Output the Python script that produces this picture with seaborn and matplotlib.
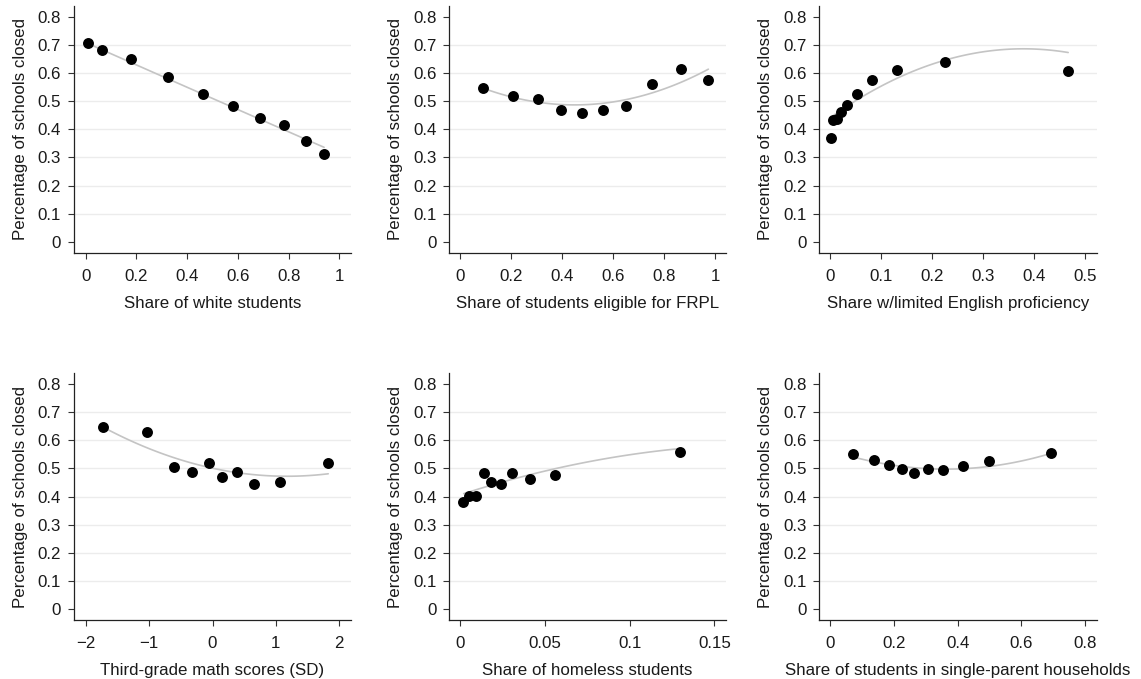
import numpy as np
import pandas as pd
import matplotlib
matplotlib.use("Agg")
import matplotlib.pyplot as plt
import seaborn as sns

# ---------------- data ----------------
white_x = [0.010, 0.063, 0.177, 0.326, 0.464, 0.582, 0.688, 0.783, 0.867, 0.941]
white_y = [0.709, 0.684, 0.650, 0.585, 0.525, 0.482, 0.439, 0.417, 0.358, 0.314]
white_fit_x = [0.010, 0.470, 0.940]
white_fit_y = [0.705, 0.522, 0.336]

frpl_x = [0.091, 0.209, 0.307, 0.395, 0.477, 0.562, 0.651, 0.754, 0.865, 0.971]
frpl_y = [0.548, 0.519, 0.507, 0.468, 0.459, 0.468, 0.484, 0.561, 0.614, 0.577]
frpl_fit_x = [0.095, 0.294, 0.477, 0.765, 0.974]
frpl_fit_y = [0.545, 0.500, 0.484, 0.536, 0.613]

lep_x = [0.0007, 0.0046, 0.0124, 0.0209, 0.0334, 0.053, 0.0825, 0.1315, 0.2245, 0.466]
lep_y = [0.370, 0.433, 0.438, 0.462, 0.488, 0.527, 0.577, 0.610, 0.639, 0.609]
lep_fit_x = [0.004, 0.039, 0.1315, 0.225, 0.382, 0.467]
lep_fit_y = [0.440, 0.495, 0.590, 0.640, 0.684, 0.676]

math_x = [-1.732, -1.028, -0.607, -0.318, -0.055, 0.155, 0.382, 0.660, 1.070, 1.817]
math_y = [0.649, 0.631, 0.504, 0.486, 0.518, 0.471, 0.488, 0.445, 0.450, 0.520]
math_fit_x = [-1.71, -1.038, 0.171, 1.065, 1.826]
math_fit_y = [0.640, 0.584, 0.488, 0.471, 0.483]

home_x = [0.0014, 0.0049, 0.0093, 0.0137, 0.0183, 0.024, 0.0305, 0.0413, 0.056, 0.130]
home_y = [0.381, 0.402, 0.402, 0.483, 0.451, 0.444, 0.483, 0.461, 0.477, 0.558]
home_fit_x = [0.002, 0.0265, 0.056, 0.0954, 0.130]
home_fit_y = [0.409, 0.456, 0.500, 0.542, 0.572]

single_x = [0.072, 0.138, 0.184, 0.226, 0.262, 0.306, 0.355, 0.416, 0.499, 0.692]
single_y = [0.551, 0.530, 0.512, 0.498, 0.485, 0.497, 0.496, 0.509, 0.528, 0.554]
single_fit_x = [0.0755, 0.193, 0.329, 0.507, 0.690]
single_fit_y = [0.542, 0.509, 0.497, 0.512, 0.551]

x_labels = ["Share of white students",
            "Share of students eligible for FRPL",
            "Share w/limited English proficiency",
            "Third-grade math scores (SD)",
            "Share of homeless students",
            "Share of students in single-parent households"]
y_label = "Percentage of schools closed"

x_ticks = [[0, 0.2, 0.4, 0.6, 0.8, 1],
           [0, 0.2, 0.4, 0.6, 0.8, 1],
           [0, 0.1, 0.2, 0.3, 0.4, 0.5],
           [-2, -1, 0, 1, 2],
           [0, 0.05, 0.1, 0.15],
           [0, 0.2, 0.4, 0.6, 0.8]]
x_tick_labels = [["0", "0.2", "0.4", "0.6", "0.8", "1"],
                 ["0", "0.2", "0.4", "0.6", "0.8", "1"],
                 ["0", "0.1", "0.2", "0.3", "0.4", "0.5"],
                 ["\u22122", "\u22121", "0", "1", "2"],
                 ["0", "0.05", "0.1", "0.15"],
                 ["0", "0.2", "0.4", "0.6", "0.8"]]
y_ticks = [0, 0.1, 0.2, 0.3, 0.4, 0.5, 0.6, 0.7, 0.8]
y_tick_labels = ["0", "0.1", "0.2", "0.3", "0.4", "0.5", "0.6", "0.7", "0.8"]
grid_vals = [0.1, 0.2, 0.3, 0.4, 0.5, 0.6, 0.7]

x_lims = [(-0.046, 1.046), (-0.042, 1.042), (-0.0216, 0.523),
          (-2.185, 2.185), (-0.0065, 0.1567), (-0.0345, 0.837)]

panels = [(white_x, white_y, white_fit_x, white_fit_y),
          (frpl_x, frpl_y, frpl_fit_x, frpl_fit_y),
          (lep_x, lep_y, lep_fit_x, lep_fit_y),
          (math_x, math_y, math_fit_x, math_fit_y),
          (home_x, home_y, home_fit_x, home_fit_y),
          (single_x, single_y, single_fit_x, single_fit_y)]

# ---------------- style ----------------
sns.set_style("ticks")
plt.rcParams['font.family'] = ['Liberation Sans', 'DejaVu Sans']
plt.rcParams['axes.unicode_minus'] = True

W, H = 1141, 679
fig = plt.figure(figsize=(W / 100, H / 100), dpi=100)

lefts = [74, 449.3, 819.3]
widths = [277, 276.4, 277.4]
bottoms_px = [253, 620]
heights = [247, 246.7]

FS = 12.2

for i, (px, py, fx, fy) in enumerate(panels):
    r, c = divmod(i, 3)
    rect = [lefts[c] / W, (H - bottoms_px[r]) / H, widths[c] / W, heights[r] / H]
    ax = fig.add_axes(rect)
    for g in grid_vals:
        ax.axhline(g, color="#ececec", lw=1.0, zorder=0)
    fit_df = pd.DataFrame({"x": fx, "y": fy})
    sns.regplot(data=fit_df, x="x", y="y", order=2, ci=None, scatter=False,
                truncate=True, ax=ax,
                line_kws=dict(color="#c4c4c4", lw=1.2, zorder=2))
    pt_df = pd.DataFrame({"x": px, "y": py})
    sns.scatterplot(data=pt_df, x="x", y="y", ax=ax, color="black", s=62,
                    edgecolor="black", linewidth=0, zorder=3)
    ax.set_xlim(*x_lims[i])
    ax.set_ylim(-0.040, 0.839)
    ax.set_xticks(x_ticks[i])
    ax.set_xticklabels(x_tick_labels[i])
    ax.set_yticks(y_ticks)
    ax.set_yticklabels(y_tick_labels)
    ax.tick_params(axis="both", direction="out", length=4.3, width=0.8,
                   color="#333333", labelsize=FS, labelcolor="#1a1a1a", pad=5)
    ax.tick_params(axis="x", pad=7)
    ax.set_xlabel(x_labels[i], fontsize=FS, labelpad=9, color="#1a1a1a")
    ax.set_ylabel(y_label, fontsize=FS, labelpad=7, color="#1a1a1a")
    for s in ["top", "right"]:
        ax.spines[s].set_visible(False)
    for s in ["left", "bottom"]:
        ax.spines[s].set_linewidth(0.9)
        ax.spines[s].set_color("#222222")

fig.savefig("out.png", dpi=100)
